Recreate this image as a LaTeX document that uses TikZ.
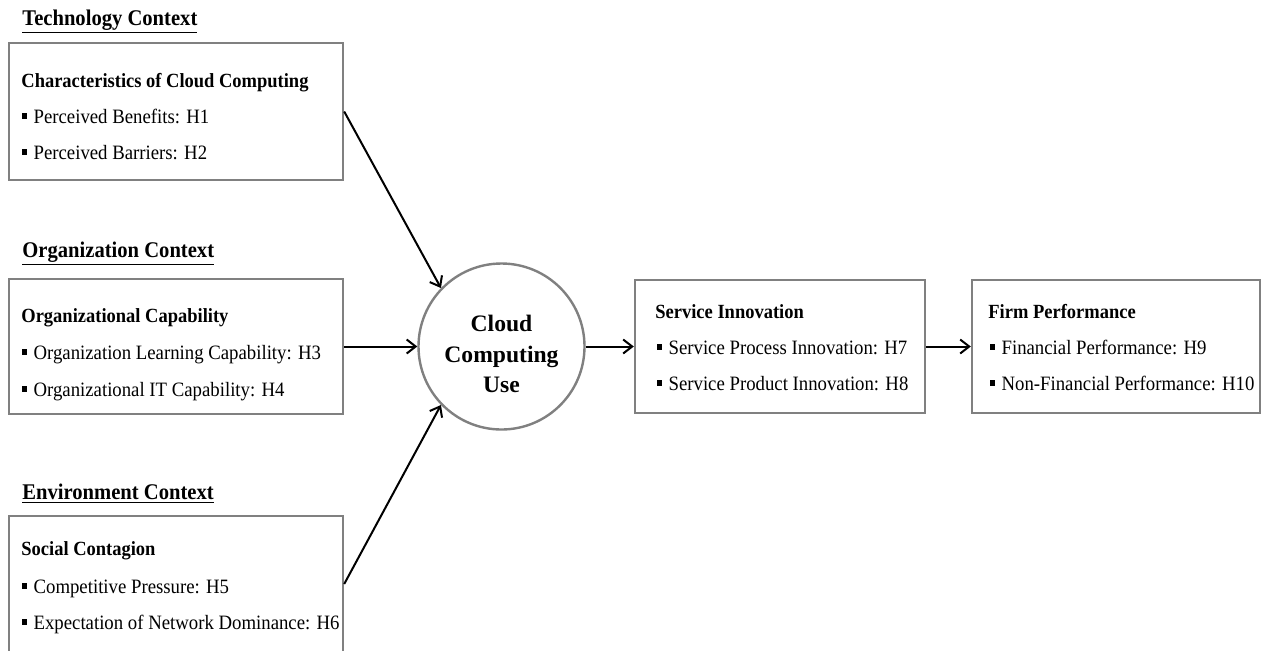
\documentclass[tikz,border=0pt]{standalone}
\usepackage{fontspec}
\setmainfont{Liberation Serif}
\newfontfamily\cond{Liberation Serif}[FakeStretch=0.92]
\usetikzlibrary{arrows.meta}
\definecolor{boxgray}{RGB}{128,128,128}
\newcommand{\bul}{\rule[2.2pt]{2.2pt}{2.6pt}\hspace{3.4pt}}

\begin{document}
\begin{tikzpicture}[x=0.5pt,y=-0.5pt]
\tikzset{box/.style={draw=boxgray,line width=1.2pt,inner sep=0pt,minimum width=167pt},
  t/.style={anchor=base west,inner sep=0pt,font=\cond\fontsize{10.2}{12}\selectfont},
  h/.style={anchor=base west,inner sep=0pt,font=\cond\fontsize{10.05}{12}\selectfont\bfseries},
  ctx/.style={anchor=base west,inner sep=0pt,font=\cond\fontsize{11.2}{13}\selectfont\bfseries},
  arr/.style={line width=1pt,-{Straight Barb[length=4.5pt,width=7pt]}}}
\useasboundingbox (0,0) rectangle (1263,650);
\clip (0,0) rectangle (1263,650);

% left column
\node[ctx] (tc) at (22,25) {\underline{Technology Context}};
\node[box,minimum height=68.5pt] (b1) at (176,111.5) {};
\node[h] (b1h) at (21,87) {Characteristics of Cloud Computing};
\node[t] (b1a) at (22,123) {\bul Perceived Benefits: H1};
\node[t] (b1b) at (22,159) {\bul Perceived Barriers: H2};

\node[ctx] (oc) at (22,257) {\underline{Organization Context}};
\node[box,minimum height=67.5pt] (b2) at (176,346.5) {};
\node[h] (b2h) at (21,322) {Organizational Capability};
\node[t] (b2a) at (22,359) {\bul Organization Learning Capability: H3};
\node[t] (b2b) at (22,396) {\bul Organizational IT Capability: H4};

\node[ctx] (ec) at (22,499) {\underline{Environment Context}};
\node[box,minimum height=68pt] (b3) at (176,584) {};
\node[h] (b3h) at (21,555) {Social Contagion};
\node[t] (b3a) at (22,593) {\bul Competitive Pressure: H5};
\node[t] (b3b) at (22,629) {\bul Expectation of Network Dominance: H6};

% middle and right
\node[circle,draw=boxgray,line width=1.2pt,minimum size=83pt,inner sep=0pt] (cu) at (501.5,346.5) {};
\node[align=center,inner sep=0pt,font=\fontsize{11.8}{15.25}\selectfont\bfseries] (cut) at (501.5,354) {Cloud\\Computing\\Use};

\node[box,minimum width=145pt,minimum height=66.5pt] (si) at (780,346.5) {};
\node[h] (sih) at (655,318) {Service Innovation};
\node[t] (sia) at (657,354) {\bul Service Process Innovation: H7};
\node[t] (sib) at (657,390) {\bul Service Product Innovation: H8};

\node[box,minimum width=144pt,minimum height=66.5pt] (fp) at (1116,346.5) {};
\node[h] (fph) at (988,318) {Firm Performance};
\node[t] (fpa) at (990,354) {\bul Financial Performance: H9};
\node[t] (fpb) at (990,390) {\bul Non-Financial Performance: H10};

\draw[arr] (b1.east) -- (cu.136);
\draw[arr] (b2.east) -- (cu.west);
\draw[arr] (b3.east) -- (cu.224);
\draw[arr] (cu.east) -- (si.west);
\draw[arr] (si.east) -- (fp.west);
\end{tikzpicture}
\end{document}
